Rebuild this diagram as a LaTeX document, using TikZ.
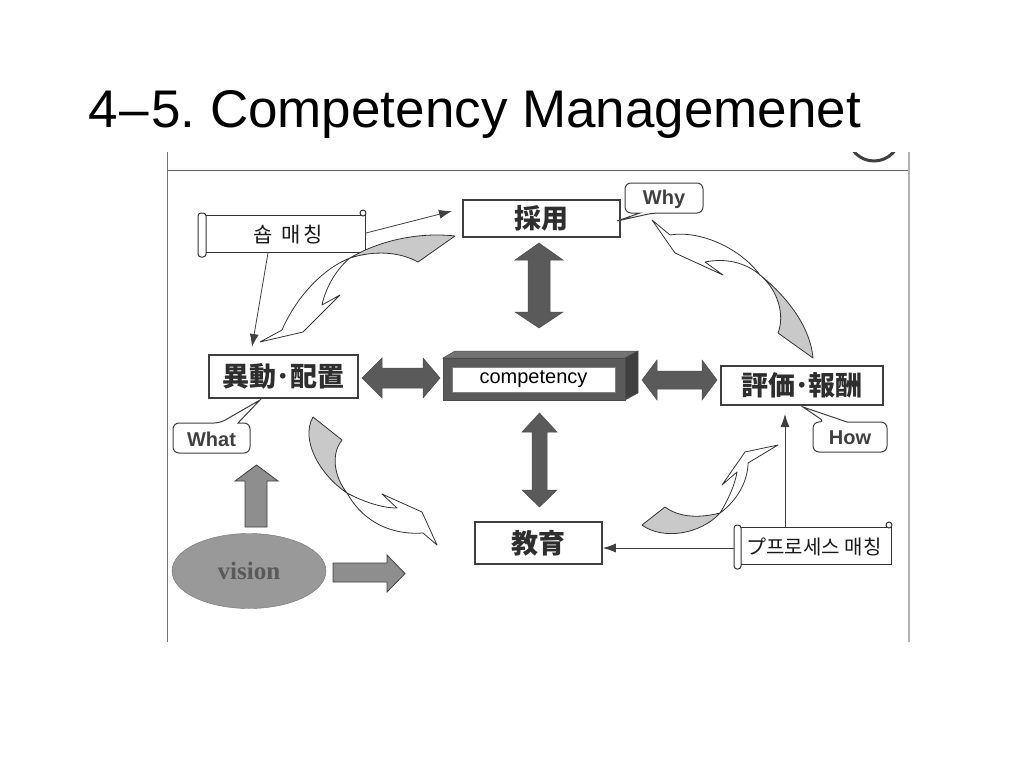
\documentclass[tikz,border=0pt]{standalone}
\usepackage{fontspec}
\setmainfont{Liberation Sans}
\newfontfamily\jp{Noto Sans CJK JP}
\newfontfamily\kr{Noto Sans CJK KR}
\newfontfamily\tms{Liberation Serif}
\usetikzlibrary{arrows.meta,shapes.geometric}
\definecolor{boxline}{HTML}{3F3F3F}
\definecolor{boxtext}{HTML}{2E2E2E}
\definecolor{darkarrow}{HTML}{5A5A5A}
\definecolor{midarrow}{HTML}{8E8E8E}
\definecolor{lightshade}{HTML}{C9C9C9}
\tikzset{
  box/.style={draw=boxline, line width=1.6pt, fill=white, text=boxtext,
    font=\jp\bfseries\fontsize{27}{27}\selectfont, inner sep=0pt},
  calltext/.style={font=\bfseries\fontsize{20}{20}\selectfont, text=black!75, inner sep=0pt},
  callout/.style={draw=boxline, line width=1pt, fill=white},
  dblarrow/.style={fill=darkarrow, draw=black!70, line width=0.5pt},
  blockarrow/.style={fill=midarrow, draw=black!75, line width=0.8pt},
  curvearrow/.style={draw=black!80, line width=0.8pt, fill=white, line join=round},
  curveshade/.style={draw=black!80, line width=0.8pt, fill=lightshade, line join=round},
  thinarrow/.style={draw=black!75, line width=0.8pt, -{Latex[length=13pt,width=9pt]}},
  scrollbody/.style={draw=black!80, line width=1pt, fill=white},
  scrolltext/.style={font=\kr\fontsize{21}{21}\selectfont, text=black!90, inner sep=0pt}
}
\begin{document}
\frenchspacing
\begin{tikzpicture}[x=1pt,y=-1pt]
\useasboundingbox (0,0) rectangle (1024,768);
\fill[white] (0,0) rectangle (1024,768);

% title
\node[anchor=base west, font=\fontsize{53}{60}\selectfont, inner sep=0pt] (title) at (88,127) {4\kern2pt–\kern2pt5. Competency Managemenet};

% scanned frame
\draw[black!55, line width=0.8pt] (167,152) -- (167,642);
\draw[black!60, line width=0.8pt] (167,170) -- (908,170);
\draw[black!30, line width=1.6pt] (909,152) -- (909,642);
\begin{scope}
  \clip (840,152) rectangle (906,170);
  \draw[black!75, line width=3pt] (874,135) circle (26);
\end{scope}

% main boxes
\node[box, minimum width=157pt, minimum height=37pt] (saiyo) at (541.5,218.5) {採用};
\node[box, minimum width=149pt, minimum height=43pt] (ido) at (283.5,376.5) {異動･配置};
\node[box, minimum width=162pt, minimum height=39pt] (hyoka) at (802,385.5) {評価･報酬};
\node[box, minimum width=127pt, minimum height=42pt] (kyoiku) at (538.5,543) {教育};

% competency 3D box
\fill[darkarrow!85, draw=black!70, line width=0.5pt] (443,358) -- (455,351) -- (638,351) -- (625,358) -- cycle;
\fill[darkarrow!70!black, draw=black!70, line width=0.5pt] (625,358) -- (638,351) -- (638,393) -- (625,400) -- cycle;
\fill[darkarrow, draw=black!70, line width=0.5pt] (443,358) rectangle (625,400);
\node[fill=white, draw=black!50, line width=0.4pt, minimum width=163pt, minimum height=25pt, inner sep=0pt,
  font=\fontsize{20}{20}\selectfont] (comp) at (533.5,379.5) {competency};

% double block arrows
\draw[dblarrow] (539,243) -- (563,260) -- (550,260) -- (550,312) -- (563,312) -- (539,328) -- (515,312) -- (528,312) -- (528,260) -- (515,260) -- cycle;
\draw[dblarrow] (539.5,413) -- (557,432) -- (547,432) -- (547,490) -- (557,490) -- (539.5,507) -- (522,490) -- (532,490) -- (532,432) -- (522,432) -- cycle;
\draw[dblarrow] (362,378) -- (382,358) -- (382,368) -- (423,368) -- (423,358) -- (440,378) -- (423,398) -- (423,388) -- (382,388) -- (382,398) -- cycle;
\draw[dblarrow] (642,380) -- (657,360) -- (657,371) -- (702,371) -- (702,360) -- (717,380) -- (702,400) -- (702,389) -- (657,389) -- (657,400) -- cycle;

% callouts
\draw[callout] (625,198) [rounded corners=6pt]-- (625,183) -- (703,183) -- (703,213) -- (653,213) [sharp corners]-- (617,221) -- (640,213) [rounded corners=6pt]-- (625,213) -- cycle;
\node[calltext] (why) at (664,199) {Why};
\draw[callout] (173,438) [rounded corners=6pt]-- (173,423) -- (220,423) [sharp corners]-- (260,400) -- (238,423) [rounded corners=6pt]-- (250,423) -- (250,453) -- (173,453) -- cycle;
\node[calltext] (what) at (211.5,439) {What};
\draw[callout] (813,437) [rounded corners=6pt]-- (813,422) -- (825,422) [sharp corners]-- (803,407) -- (847,422) [rounded corners=6pt]-- (887,422) -- (887,452) -- (813,452) -- cycle;
\node[calltext] (how) at (850,438) {How};

% scrolls
\draw[scrollbody] (203,215) rectangle (365,252);
\draw[scrollbody, rounded corners=3pt] (198,213) rectangle (206,257);
\draw[scrollbody] (363,213) circle (3);
\node[scrolltext] (shop) at (288,235) {숍\hspace{9pt}매\hspace{3pt}칭};
\draw[scrollbody] (738,527) rectangle (891,564);
\draw[scrollbody, rounded corners=3pt] (734,525) rectangle (741,569);
\draw[scrollbody] (889,525) circle (3);
\node[scrolltext, font=\kr\fontsize{20}{20}\selectfont] (proc) at (814,547) {プ프로세스 매칭};

% thin arrows
\coordinate (s1r) at (366,233);
\coordinate (s1b) at (268,253);
\coordinate (saiyoIn) at (452,211);
\coordinate (idoIn) at (252,347);
\coordinate (s2l) at (734,548);
\coordinate (s2t) at (785,527);
\coordinate (hyokaIn) at (785,414);
\draw[thinarrow] (s1r) -- (saiyoIn);
\draw[thinarrow] (s1b) -- (idoIn);
\draw[thinarrow] (s2l) -- (kyoiku.east |- s2l);
\draw[thinarrow] (s2t) -- (hyokaIn);

% vision
\node[ellipse, fill=midarrow!90, draw=midarrow!80!black, line width=0.4pt, minimum width=154pt, minimum height=75pt,
  font=\tms\bfseries\fontsize{25}{25}\selectfont, text=black!65] (vision) at (249,571) {vision};
\draw[blockarrow] (256.5,465) -- (278,481) -- (267,481) -- (267,527) -- (245,527) -- (245,481) -- (235,481) -- cycle;
\draw[blockarrow] (405,573.5) -- (387,592) -- (387,582) -- (333,582) -- (333,563) -- (387,563) -- (387,555) -- cycle;

% curved arrow 1: saiyo -> ido
\draw[curveshade] (350,258) .. controls (380,240) and (420,232) .. (455,236) -- (418,262) .. controls (400,252) and (375,250) .. (350,258) -- cycle;
\draw[curvearrow] (350,258) .. controls (320,270) and (295,300) .. (282,330) -- (260,342) -- (303,332) -- (340,295) -- (322,305) .. controls (325,290) and (335,270) .. (350,258) -- cycle;

% curved arrow 2: why -> hyoka
\draw[curvearrow] (760,275) .. controls (740,248) and (700,230) .. (670,235) -- (652,220) -- (675,253) -- (723,275) -- (705,262) .. controls (725,258) and (745,262) .. (760,275) -- cycle;
\draw[curveshade] (760,275) .. controls (785,295) and (810,325) .. (813,358) -- (778,333) .. controls (785,315) and (778,290) .. (760,275) -- cycle;

% curved arrow 3: ido -> kyoiku
\draw[curveshade] (313,417) .. controls (300,440) and (320,475) .. (347,493) .. controls (335,478) and (330,455) .. (342,440) -- cycle;
\draw[curvearrow] (347,493) .. controls (360,500) and (380,508) .. (397,508) -- (382,494) -- (422,512) -- (437,545) -- (423,533) .. controls (395,535) and (365,525) .. (347,493) -- cycle;

% curved arrow 4: kyoiku -> hyoka
\draw[curveshade] (642,525) -- (665,507) .. controls (680,518) and (700,518) .. (720,513) .. controls (700,535) and (662,540) .. (642,525) -- cycle;
\draw[curvearrow] (720,513) .. controls (728,500) and (735,485) .. (737,472) -- (722,485) -- (745,452) -- (778,445) -- (748,463) .. controls (748,480) and (738,500) .. (720,513) -- cycle;
\end{tikzpicture}
\end{document}
